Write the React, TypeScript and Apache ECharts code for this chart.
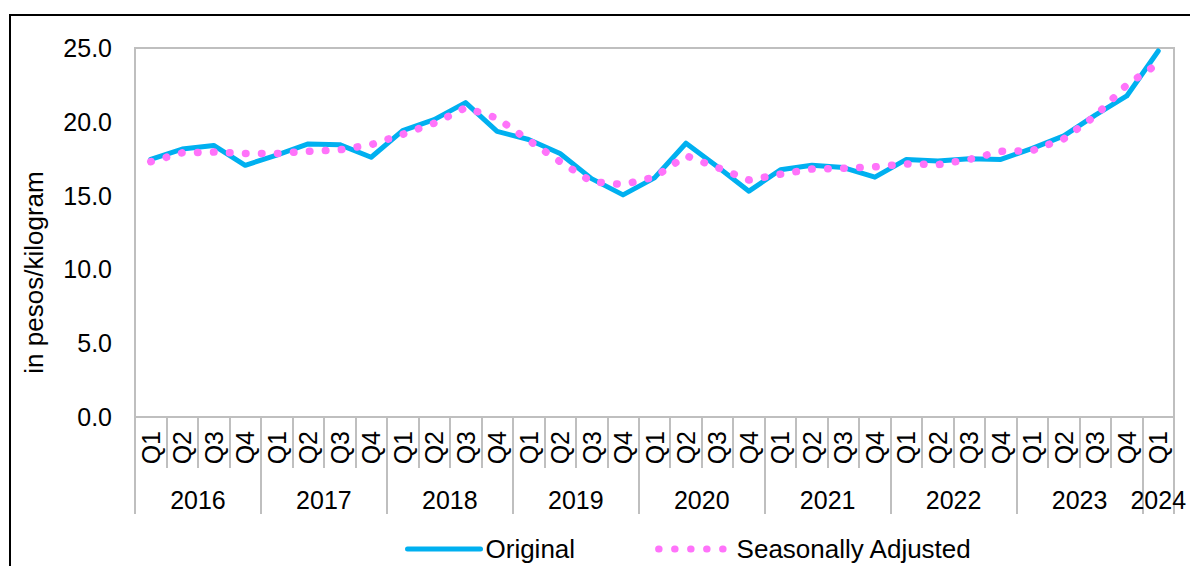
import React, { useEffect, useRef } from "react";
import * as echarts from "echarts";

const years = ["2016", "2017", "2018", "2019", "2020", "2021", "2022", "2023", "2024"];
const quartersPerYear = [4, 4, 4, 4, 4, 4, 4, 4, 1];
const quarterNames = ["Q1", "Q2", "Q3", "Q4"];

const original = [
  17.45, 18.15, 18.4, 17.05,
  17.75, 18.5, 18.45, 17.6,
  19.4, 20.15, 21.3, 19.35,
  18.8, 17.85, 16.15, 15.05,
  16.2, 18.55, 16.95, 15.3,
  16.75, 17.05, 16.9, 16.25,
  17.45, 17.35, 17.5, 17.45,
  18.2, 19.05, 20.45, 21.75,
  24.8,
];

const seasonallyAdjusted = [
  17.3, 17.9, 17.95, 17.85,
  17.85, 18.0, 18.1, 18.45,
  19.15, 19.9, 20.95, 20.25,
  18.75, 17.3, 15.95, 15.75,
  16.25, 17.7, 16.9, 16.05,
  16.45, 16.8, 16.85, 16.95,
  17.15, 17.1, 17.45, 18.0,
  18.05, 18.85, 20.4, 22.5,
  23.95,
];

const yTicks = { min: 0, max: 25, interval: 5 };

export default function App() {
  const ref = useRef<HTMLDivElement>(null);

  useEffect(() => {
    if (!ref.current) return;
    const chart = echarts.init(ref.current, undefined, { renderer: "svg" });

    const quarterLabels: string[] = [];
    quartersPerYear.forEach((n) => {
      for (let i = 0; i < n; i++) quarterLabels.push(quarterNames[i]);
    });
    const nQ = quarterLabels.length;

    // year axis at half-quarter resolution (boundaryGap false): index k -> position k/2
    const yearAxisData: string[] = new Array(nQ * 2 + 1).fill("");
    const yearTickIdx = new Set<number>();
    let start = 0;
    years.forEach((y, i) => {
      const n = quartersPerYear[i];
      yearTickIdx.add(start * 2);
      yearAxisData[start * 2 + n] = y;
      start += n;
    });
    yearTickIdx.add(start * 2);

    const font = "'Liberation Sans', Arial, sans-serif";
    const grey = "#BFBFBF";
    const blue = "#00B0F0";
    const pink = "#FF73FA";
    const dotted = [0.5, 15.5];

    chart.setOption({
      animation: false,
      textStyle: { fontFamily: font, color: "#000" },
      graphic: [
        {
          type: "rect",
          shape: { x: 10, y: 15, width: 1200, height: 600 },
          style: { fill: "none", stroke: "#000", lineWidth: 2 },
          silent: true,
        },
      ],
      grid: {
        left: 135,
        right: 16,
        top: 48,
        bottom: 149,
        show: true,
        borderColor: grey,
        borderWidth: 2,
        containLabel: false,
        outerBoundsMode: "none",
      },
      legend: {
        left: 400,
        top: 531,
        itemWidth: 73,
        itemHeight: 14,
        itemGap: 80,
        textStyle: { fontSize: 26, color: "#000", fontFamily: font },
        data: [
          {
            name: "Original",
            itemStyle: { opacity: 0 },
            lineStyle: { width: 5, color: blue, cap: "round" },
          },
          {
            name: "Seasonally Adjusted",
            itemStyle: { opacity: 0 },
            lineStyle: { width: 7, color: pink, type: dotted, cap: "round" },
          },
        ],
      },
      xAxis: [
        {
          type: "category",
          data: quarterLabels,
          boundaryGap: true,
          position: "bottom",
          axisLine: { show: true, lineStyle: { color: grey, width: 2 } },
          axisTick: {
            show: true,
            interval: 0,
            length: 51,
            lineStyle: { color: grey, width: 2 },
          },
          axisLabel: {
            interval: 0,
            rotate: 90,
            margin: 14,
            fontSize: 25,
            color: "#000",
            fontFamily: font,
          },
        },
        {
          type: "category",
          data: yearAxisData,
          boundaryGap: false,
          position: "bottom",
          offset: 0,
          axisLine: { show: false },
          axisTick: {
            show: true,
            interval: (idx: number) => yearTickIdx.has(idx),
            length: 97,
            lineStyle: { color: grey, width: 2 },
          },
          axisLabel: {
            interval: (idx: number, val: string) => val !== "",
            margin: 70,
            fontSize: 25,
            color: "#000",
            fontFamily: font,
          },
        },
      ],
      yAxis: {
        type: "value",
        min: yTicks.min,
        max: yTicks.max,
        interval: yTicks.interval,
        name: "in pesos/kilogram",
        nameLocation: "middle",
        nameRotate: 90,
        nameGap: 88,
        nameTextStyle: {
          fontSize: 26,
          color: "#000",
          fontFamily: font,
          padding: [0, 80, 0, 0],
        },
        axisLine: { show: false },
        axisTick: { show: false },
        splitLine: { show: false },
        axisLabel: {
          margin: 23,
          fontSize: 25,
          color: "#000",
          fontFamily: font,
          formatter: (v: number) => v.toFixed(1),
        },
      },
      series: [
        {
          name: "Original",
          type: "line",
          xAxisIndex: 0,
          data: original,
          symbol: "none",
          itemStyle: { color: blue },
          lineStyle: { color: blue, width: 5, cap: "round", join: "round" },
        },
        {
          name: "Seasonally Adjusted",
          type: "line",
          xAxisIndex: 0,
          data: seasonallyAdjusted,
          symbol: "none",
          itemStyle: { color: pink },
          lineStyle: {
            color: pink,
            width: 7.5,
            type: dotted,
            cap: "round",
            join: "round",
          },
        },
      ],
    });

    return () => chart.dispose();
  }, []);

  return (
    <div
      ref={ref}
      style={{ position: "absolute", left: 0, top: 0, width: 1190, height: 566 }}
    />
  );
}
